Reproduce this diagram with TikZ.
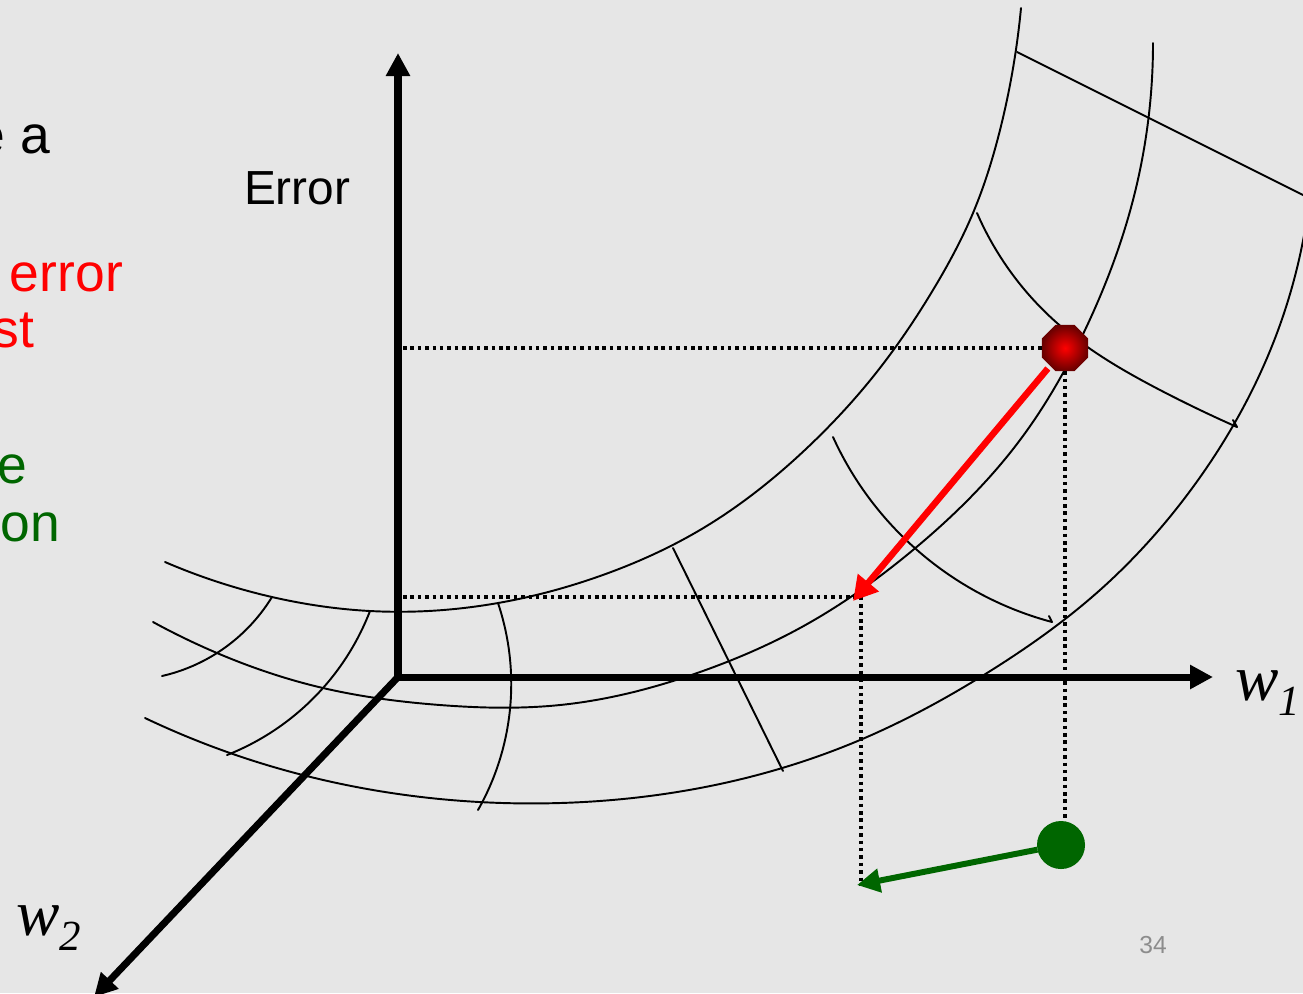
\documentclass[tikz,border=0pt]{standalone}
\usepackage{fontspec}
\setmainfont{Liberation Sans}
\newfontfamily\timesfont{Liberation Serif}
\usetikzlibrary{arrows.meta,shapes.geometric,hobby}
\definecolor{bg}{RGB}{230,230,230}
\definecolor{dkgreen}{RGB}{0,102,0}
\definecolor{dkred}{RGB}{105,0,0}
\definecolor{pagegray}{RGB}{140,140,140}
\tikzset{axhead/.tip={Triangle[length=0.23cm,width=0.23cm]}}
\begin{document}
\begin{tikzpicture}[x=0.01cm,y=-0.01cm,
  axis/.style={line width=2pt, line join=miter},
  contour/.style={line width=0.55pt, line cap=round, line join=round, use Hobby shortcut},
  dotline/.style={line width=1pt, dash pattern=on 1pt off 1.1pt},
  lbl/.style={inner sep=0pt, outer sep=0pt},
  lefttext/.style={lbl, font=\fontsize{15.2}{17}\selectfont},
  wlabel/.style={lbl, anchor=base west, font=\timesfont\itshape\fontsize{18.5}{20}\selectfont}
]
\fill[bg] (0,0) rectangle (1303,993);
\useasboundingbox (0,0) rectangle (1303,993);
\clip (0,0) rectangle (1303,993);

% named points
\coordinate (O) at (398,677);
\coordinate (Etip) at (398,53);
\coordinate (W1tip) at (1213,677);
\coordinate (W2tip) at (94,997);
\coordinate (dh1) at (403,348);
\coordinate (dh2) at (403,597);
\coordinate (target) at (861,597);
\coordinate (redtip) at (853,601);
\coordinate (greentip) at (857,885);

% contour curves
\draw[contour] (165,562) .. (272,597) .. (370,611) .. (498,603) .. (600,576) .. (700,530) .. (807,448) .. (872,378) .. (933,290) .. (973,213) .. (1000,130) .. (1021,8);
\draw[contour] (153,622) .. (217,653) .. (323,688) .. (440,705) .. (560,705) .. (700,672) .. (800,628) .. (913,550) .. (1020,440) .. (1085,330) .. (1133,200) .. (1153,43);
\draw[contour] (145,718) .. (230,753) .. (373,790) .. (560,803) .. (700,788) .. (860,740) .. (987,673) .. (1100,590) .. (1193,487) .. (1277,333) .. (1310,195);

% cross lines
\draw[contour] (272,597) .. (217,653) .. (162,676);
\draw[contour] (370,611) .. (323,688) .. (227,755);
\draw[contour] (498,603) .. (511,695) .. (478,810);
\draw[contour] (673,548) -- (783,771);
\draw[contour] (833,437) .. (903,537) .. (1052,622) -- (1049,616);
\draw[contour] (977,213) .. (1057,323) .. (1160,390) .. (1237,427) -- (1233,420);
\draw[contour] (1017,52) -- (1310,198.5);

% axes
\draw[axis, axhead-axhead] (Etip) -- (O) -- (W1tip);
\draw[axis, -axhead] (O) -- (W2tip);

% dots
\node[regular polygon, regular polygon sides=8, minimum size=0.5cm, inner sep=0pt, outer sep=0pt,
      shading=radial, inner color=red, outer color=dkred] (reddot) at (1065,348) {};
\node[circle, fill=dkgreen, minimum size=0.48cm, inner sep=0pt, outer sep=0pt] (greendot) at (1061,845) {};

% dotted projections
\draw[dotline] (dh1) -- (reddot.west);
\draw[dotline] (reddot.south) -- (reddot.south |- greendot.north);
\draw[dotline] (dh2) -- (target) -- (target |- greentip);

% step arrows
\draw[line width=1.85pt, red, -{Triangle[length=0.24cm,width=0.26cm]}, shorten <=1pt] (reddot) -- (redtip);
\draw[line width=1.7pt, dkgreen, -{Triangle[length=0.23cm,width=0.23cm]}] (greendot) -- (greentip);

% labels
\node[lbl, anchor=base west, font=\fontsize{13.6}{15}\selectfont] (errlbl) at (244,204) {Error};
\node[wlabel] (w1lbl) at (1235,700) {w\raisebox{-4.3pt}{\fontsize{12.2}{13}\selectfont 1}};
\node[wlabel] (w2lbl) at (16,935) {w\raisebox{-4.3pt}{\fontsize{12.2}{13}\selectfont 2}};
\node[font=\fontsize{7}{8}\selectfont, text=pagegray, inner sep=0pt] (pagenum) at (1153,945) {34};

% left text fragments
\node[lefttext, anchor=base east] (t1) at (50,153) {e a};
\node[lefttext, anchor=base west, text=red] (t2) at (10,291) {error};
\node[lefttext, anchor=base east, text=red] (t3) at (34,347) {st};
\node[lefttext, anchor=base east, text=dkgreen] (t4) at (27,483) {e};
\node[lefttext, anchor=base east, text=dkgreen] (t5) at (60,541) {on};
\end{tikzpicture}
\end{document}
